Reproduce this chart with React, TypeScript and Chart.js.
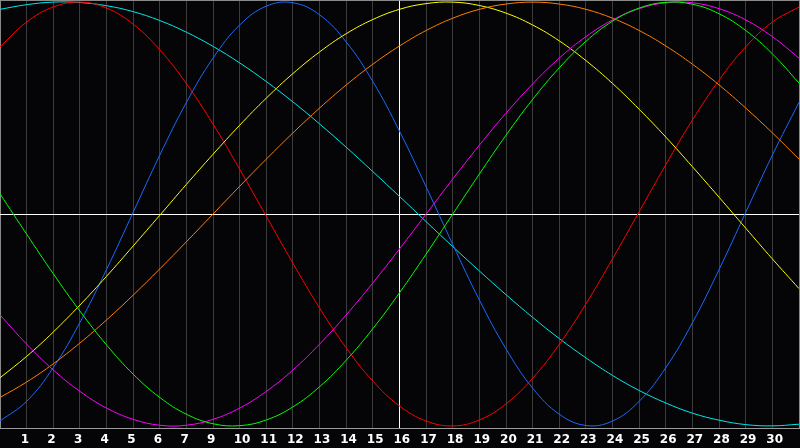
import React, { useEffect, useRef } from "react";
import { Chart, registerables } from "chart.js";

Chart.register(...registerables);

const days = [0, 1, 2, 3, 4, 5, 6, 7, 8, 9, 10, 11, 12, 13, 14, 15, 16, 17, 18, 19, 20, 21, 22, 23, 24, 25, 26, 27, 28, 29, 30];

const tickLabels = ["1", "2", "3", "4", "5", "6", "7", "9", "10", "11", "12", "13", "14", "15", "16", "17", "18", "19", "20", "21", "22", "23", "24", "25", "26", "27", "28", "29", "30"];

const red = [78.9, 90.6, 97.7, 100, 97.2, 89.6, 77.5, 61.5, 42.4, 21.1, -1.1, -23.3, -44.4, -63.2, -78.9, -90.6, -97.7, -100, -97.2, -89.6, -77.5, -61.5, -42.4, -21.1, 1.1, 23.3, 44.4, 63.2, 78.9, 90.6, 97.7];
const blue = [-97.7, -88.4, -72.5, -51.2, -26.2, 0.8, 27.8, 52.7, 73.6, 89.2, 98.1, 99.7, 94.0, 81.2, 62.5, 39.1, 12.8, -14.4, -40.6, -63.7, -82.2, -94.5, -99.8, -97.7, -88.4, -72.5, -51.3, -26.2, 0.8, 27.8, 52.7];
const cyan = [96.6, 98.8, 100, 99.8, 98.3, 95.5, 91.3, 85.8, 79.1, 71.3, 62.5, 52.9, 42.5, 31.5, 20.0, 8.3, -3.6, -15.4, -26.9, -38.1, -48.8, -58.8, -67.9, -76.2, -83.3, -89.2, -94.0, -97.3, -99.4, -100, -99.2];
const yellow = [-77.3, -67.2, -55.7, -43.0, -29.4, -15.1, -0.6, 14.0, 28.2, 41.9, 54.7, 66.3, 76.5, 85.1, 91.8, 96.6, 99.3, 100, 98.4, 94.8, 89.2, 81.7, 72.4, 61.6, 49.4, 36.3, 22.3, 7.9, -6.7, -21.2, -35.2];
const orange = [-86.6, -79.3, -70.7, -60.9, -50.0, -38.3, -25.9, -13.1, 0, 13.1, 25.9, 38.3, 50.0, 60.9, 70.7, 79.3, 86.6, 92.4, 96.6, 99.1, 100, 99.1, 96.6, 92.4, 86.6, 79.3, 70.7, 60.9, 50.0, 38.3, 25.9];
const green = [9.5, -9.5, -28.2, -45.8, -61.8, -75.6, -86.6, -94.5, -99.0, -99.9, -97.2, -91.0, -81.5, -69.0, -54.1, -37.2, -18.9, 0, 18.9, 37.2, 54.1, 69.0, 81.5, 91.0, 97.2, 99.9, 99.0, 94.5, 86.6, 75.6, 61.8];
const magenta = [-47.6, -61.4, -73.6, -83.7, -91.6, -96.9, -99.7, -99.7, -96.9, -91.6, -83.7, -73.6, -61.4, -47.6, -32.5, -16.5, 0, 16.5, 32.5, 47.6, 61.4, 73.6, 83.7, 91.6, 96.9, 99.7, 99.7, 96.9, 91.6, 83.7, 73.6];

const seriesList = [
  { name: "green", values: green, color: "#00ff00" },
  { name: "magenta", values: magenta, color: "#ff00ff" },
  { name: "orange", values: orange, color: "#ff8000" },
  { name: "yellow", values: yellow, color: "#ffff00" },
  { name: "blue", values: blue, color: "#1a6aff" },
  { name: "red", values: red, color: "#ff0000" },
  { name: "cyan", values: cyan, color: "#00e8e8" },
];

const todayValue = 15;

export default function App() {
  const canvasRef = useRef<HTMLCanvasElement | null>(null);

  useEffect(() => {
    const canvas = canvasRef.current;
    if (!canvas) return;
    const chart = new Chart(canvas, {
      type: "line",
      data: {
        datasets: seriesList.map((s) => ({
          label: s.name,
          data: days.map((d, i) => ({ x: d, y: s.values[i] })),
          borderColor: s.color,
          borderWidth: 1,
          pointRadius: 0,
          pointHoverRadius: 0,
          pointBorderWidth: 0,
          tension: 0.4,
          fill: false,
        })),
      },
      options: {
        animation: false,
        responsive: false,
        maintainAspectRatio: false,
        layout: { autoPadding: false, padding: { left: 0, right: 1, top: 0, bottom: 0 } },
        plugins: { legend: { display: false }, tooltip: { enabled: false } },
        scales: {
          x: {
            type: "linear",
            min: 0,
            max: 30,
            afterFit: (scale: any) => {
              scale.height = 20;
              scale.paddingLeft = 0;
              scale.paddingRight = 0;
            },
            border: { display: true, color: "#9a9a9a", width: 1 },
            grid: {
              drawTicks: false,
              tickLength: 0,
              lineWidth: 1,
              color: (ctx: any) => {
                const v = ctx.tick ? ctx.tick.value : -1;
                if (v === todayValue) return "#ffffff";
                if (v === 0 || v === 30) return "#8a8a8a";
                return "#3c3c3c";
              },
            },
            ticks: {
              stepSize: 1,
              autoSkip: false,
              maxRotation: 0,
              align: "start",
              labelOffset: -6,
              padding: 5,
              color: "#ffffff",
              font: { family: "DejaVu Sans", size: 12, weight: "bold" },
              callback: (value: any) => {
                const v = Number(value);
                if (v >= 1 && v <= tickLabels.length) return tickLabels[v - 1];
                return "";
              },
            },
          },
          y: {
            type: "linear",
            min: -101,
            max: 101,
            afterBuildTicks: (scale: any) => {
              scale.ticks = [{ value: -101 }, { value: 0 }, { value: 101 }];
            },
            border: { display: false },
            grid: {
              drawTicks: false,
              tickLength: 0,
              color: (ctx: any) => {
                const v = ctx.tick ? ctx.tick.value : 1;
                if (v === 0) return "#ffffff";
                if (v === 101) return "#8a8a8a";
                return "rgba(0,0,0,0)";
              },
            },
            ticks: { display: false },
            afterFit: (scale: any) => {
              scale.width = 0;
              scale.paddingTop = 0;
              scale.paddingBottom = 0;
            },
          },
        },
      },
    });
    return () => chart.destroy();
  }, []);

  return (
    <div
      style={{
        position: "fixed",
        left: 0,
        top: 0,
        width: 800,
        height: 448,
        background: "#050508",
      }}
    >
      <canvas ref={canvasRef} width={800} height={448} style={{ display: "block" }} />
    </div>
  );
}
